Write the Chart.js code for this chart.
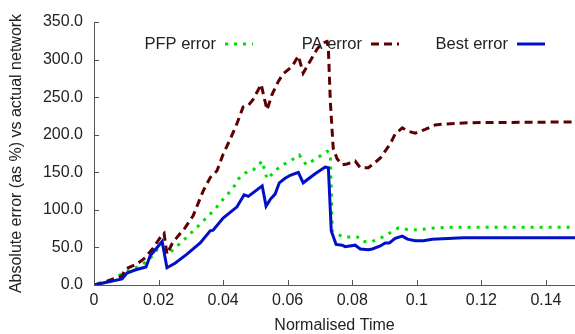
<!DOCTYPE html>
<html>
<head>
<meta charset="utf-8">
<script src="https://cdn.jsdelivr.net/npm/chart.js@4"></script>
<style>
  html, body { margin: 0; padding: 0; background: #fff; }
  #wrap { width: 575px; height: 334px; }
</style>
</head>
<body>
<div id="wrap"><canvas id="chart"></canvas></div>
<script>
// values
const pfpX = [0, 0.005, 0.009, 0.0121, 0.0152, 0.018, 0.0211, 0.0229, 0.0251, 0.0298, 0.0338, 0.0375, 0.04, 0.0431, 0.0447, 0.0468, 0.0493, 0.0521, 0.0536, 0.0555, 0.0577, 0.0608, 0.0636, 0.0657, 0.0691, 0.0722, 0.0732, 0.0738, 0.0753, 0.0772, 0.0816, 0.0831, 0.0856, 0.0881, 0.0912, 0.0943, 0.0971, 0.1002, 0.1033, 0.1095, 0.149];
const pfpY = [0, 5, 16, 21, 28, 38, 56, 41, 49, 68, 85, 101, 114, 129, 141, 149, 153, 165, 141, 149, 158, 165, 173, 160, 169, 178, 175, 72, 68, 64, 64, 58, 57, 61, 68, 76, 74, 73, 75, 77, 77];

const paX = [0, 0.004, 0.0087, 0.0096, 0.0133, 0.0158, 0.0183, 0.0211, 0.0217, 0.0226, 0.0242, 0.026, 0.0282, 0.0307, 0.0338, 0.036, 0.0381, 0.04, 0.0422, 0.0443, 0.0462, 0.0478, 0.0493, 0.0518, 0.0524, 0.0536, 0.0552, 0.0571, 0.0586, 0.0614, 0.0633, 0.0648, 0.0664, 0.0691, 0.0707, 0.0722, 0.0726, 0.0732, 0.0741, 0.0753, 0.0769, 0.0784, 0.0809, 0.0825, 0.085, 0.0865, 0.0887, 0.0918, 0.0933, 0.0955, 0.0971, 0.0995, 0.1026, 0.1057, 0.1082, 0.1157, 0.149];
const paY = [0, 5, 12, 21, 28, 36, 49, 67, 69, 41, 55, 65, 76, 92, 125, 143, 152, 174, 194, 215, 237, 239, 247, 267, 255, 233, 254, 271, 281, 291, 305, 282, 294, 314, 322, 324, 315, 245, 182, 168, 160, 161, 165, 156, 156, 161, 169, 188, 201, 209, 205, 202, 207, 213, 214, 216, 217];

const bestX = [0, 0.0087, 0.0102, 0.0127, 0.0161, 0.0174, 0.0211, 0.0226, 0.0251, 0.0288, 0.0329, 0.036, 0.0369, 0.04, 0.0443, 0.0465, 0.0478, 0.0521, 0.0533, 0.0546, 0.0561, 0.0574, 0.0592, 0.0608, 0.0633, 0.0648, 0.0685, 0.0716, 0.0726, 0.0735, 0.075, 0.0769, 0.0778, 0.0809, 0.0825, 0.085, 0.0862, 0.0887, 0.0902, 0.0915, 0.0933, 0.0955, 0.0971, 0.0995, 0.102, 0.1048, 0.1144, 0.149];
const bestY = [0, 8, 16, 20, 24, 39, 58, 23, 29, 41, 56, 72, 73, 89, 104, 120, 118, 132, 105, 114, 121, 136, 142, 146, 150, 136, 148, 157, 156, 72, 54, 53, 51, 53, 48, 47, 48, 52, 56, 56, 62, 65, 61, 59, 59, 61, 63, 63];

const xTicks = [0, 0.02, 0.04, 0.06, 0.08, 0.1, 0.12, 0.14];
const yTicks = [0, 50, 100, 150, 200, 250, 300, 350];

const FONT = "'Liberation Sans', Arial, Helvetica, sans-serif";

const toPoints = (xs, ys) => xs.map((x, i) => ({ x, y: ys[i] }));

// gnuplot-like legend: text right aligned, then the line sample
const keyPlugin = {
    id: 'key',
    afterDraw(chart) {
        const { ctx, chartArea } = chart;
        ctx.save();
        ctx.font = '16.5px ' + FONT;
        ctx.textBaseline = 'middle';
        ctx.textAlign = 'right';
        chart.data.datasets.forEach((ds, i) => {
            const r = chartArea.left + 122 + i * 146;
            const y = 44;
            ctx.fillStyle = '#222';
            ctx.fillText(ds.label, r, y);
            ctx.beginPath();
            ctx.strokeStyle = ds.borderColor;
            ctx.lineWidth = ds.borderWidth;
            ctx.setLineDash(ds.borderDash || []);
            ctx.moveTo(r + 9, y);
            ctx.lineTo(r + 37, y);
            ctx.stroke();
        });
        ctx.restore();
    }
};

// tick marks pointing into the plot
const innerTicks = {
    id: 'innerTicks',
    afterDraw(chart) {
        const { ctx, chartArea, scales } = chart;
        ctx.save();
        ctx.strokeStyle = '#555';
        ctx.lineWidth = 1;
        ctx.beginPath();
        xTicks.forEach(v => {
            const px = Math.round(scales.x.getPixelForValue(v)) + 0.5;
            ctx.moveTo(px, chartArea.bottom);
            ctx.lineTo(px, chartArea.bottom - 5);
        });
        yTicks.forEach(v => {
            const py = Math.round(scales.y.getPixelForValue(v)) + 0.5;
            ctx.moveTo(chartArea.left, py);
            ctx.lineTo(chartArea.left + 5, py);
        });
        ctx.stroke();
        ctx.restore();
    }
};

new Chart(document.getElementById('chart'), {
    type: 'line',
    data: {
        datasets: [
            {
                label: 'PFP error',
                data: toPoints(pfpX, pfpY),
                borderColor: '#00dd00',
                borderWidth: 3,
                borderDash: [3, 6],
                order: 2
            },
            {
                label: 'PA error',
                data: toPoints(paX, paY),
                borderColor: '#5c0000',
                borderWidth: 3,
                borderDash: [8, 5],
                order: 1
            },
            {
                label: 'Best error',
                data: toPoints(bestX, bestY),
                borderColor: '#0010c8',
                borderWidth: 3,
                order: 0
            }
        ]
    },
    options: {
        responsive: true,
        maintainAspectRatio: false,
        animation: false,
        layout: { padding: { top: 22, right: 0, left: 0, bottom: 0 } },
        elements: {
            point: { radius: 0 },
            line: { tension: 0, fill: false, borderCapStyle: 'butt' }
        },
        plugins: {
            legend: { display: false },
            tooltip: { enabled: false }
        },
        scales: {
            x: {
                type: 'linear',
                min: 0,
                max: 0.149,
                afterBuildTicks: s => { s.ticks = xTicks.map(v => ({ value: v })); },
                afterFit: s => { s.height = 49; },
                grid: { display: false, drawTicks: false },
                border: { display: true, color: '#555', width: 1 },
                ticks: {
                    padding: 6,
                    color: '#222',
                    font: { family: FONT, size: 16 },
                    maxRotation: 0,
                    callback: v => String(+v.toFixed(2))
                },
                title: {
                    display: true,
                    text: 'Normalised Time',
                    color: '#222',
                    font: { family: FONT, size: 16 },
                    padding: { top: 0, bottom: -1 }
                }
            },
            y: {
                min: 0,
                max: 350,
                afterBuildTicks: s => { s.ticks = yTicks.map(v => ({ value: v })); },
                afterFit: s => { s.width = 94; },
                grid: { display: false, drawTicks: false },
                border: { display: true, color: '#555', width: 1 },
                ticks: {
                    padding: 11,
                    color: '#222',
                    font: { family: FONT, size: 16 },
                    callback: v => v.toFixed(1)
                },
                title: {
                    display: true,
                    text: 'Absolute error (as %) vs actual network',
                    color: '#222',
                    font: { family: FONT, size: 16 },
                    padding: { top: 7, bottom: 0 }
                }
            }
        }
    },
    plugins: [keyPlugin, innerTicks]
});
</script>
</body>
</html>
